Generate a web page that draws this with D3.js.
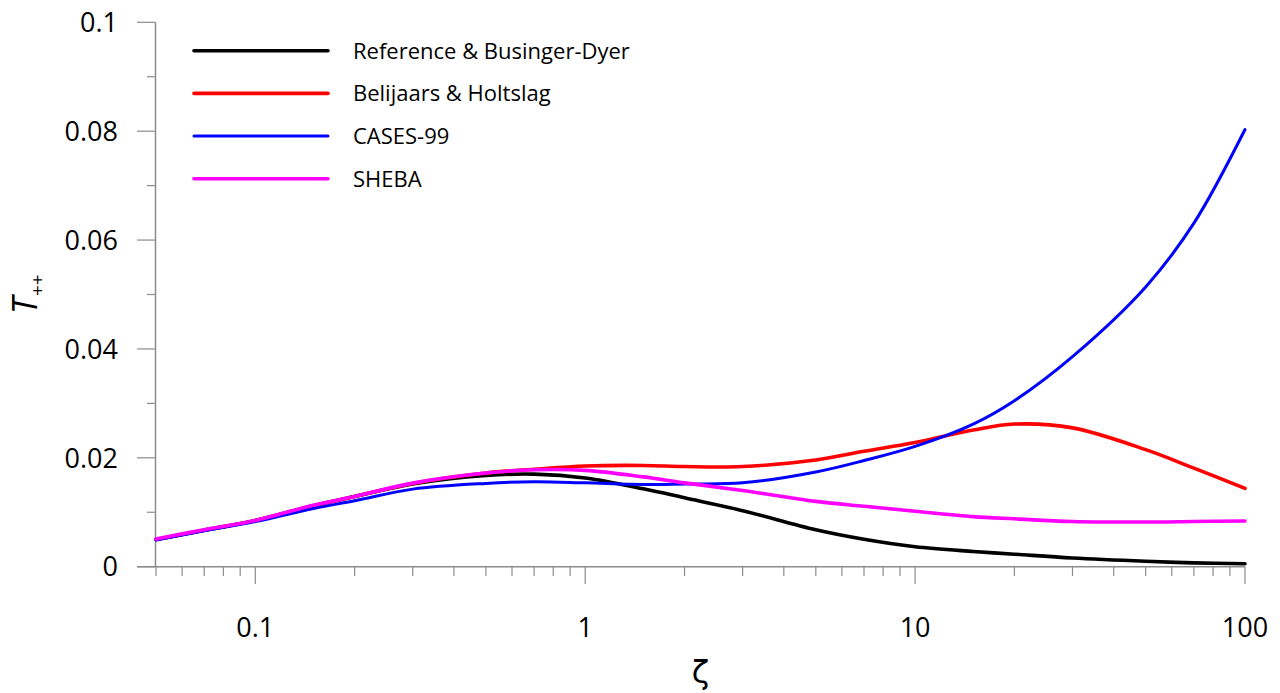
<!DOCTYPE html>
<html>
<head>
<meta charset="utf-8">
<script src="https://cdn.jsdelivr.net/npm/d3@7"></script>
<style>
  html, body { margin: 0; padding: 0; background: #fff; }
  svg { display: block; }
  text { font-family: "Open Sans", "Noto Sans", sans-serif; fill: #000; }
</style>
</head>
<body>
<svg id="chart" width="1280" height="693"></svg>
<script>
// ---- data ----
const zeta = [0.05, 0.07, 0.1, 0.15, 0.2, 0.3, 0.5, 0.7, 1, 1.5, 2, 3, 5, 7, 10, 15, 20, 30, 50, 70, 100];
const referenceBD = [0.0050, 0.0067, 0.0085, 0.0112, 0.0129, 0.0152, 0.01675, 0.0170, 0.0163, 0.0143, 0.01266, 0.0103, 0.0068, 0.00505, 0.00367, 0.0028, 0.0023, 0.0016, 0.0010, 0.0007, 0.00055];
const belijaarsHoltslag = [0.0050, 0.0067, 0.0085, 0.0112, 0.0129, 0.0153, 0.0172, 0.0179, 0.0185, 0.0186, 0.0184, 0.0184, 0.0196, 0.0212, 0.0228, 0.0251, 0.0262, 0.0255, 0.0215, 0.0181, 0.0144];
const cases99 = [0.0049, 0.0066, 0.0083, 0.0107, 0.0121, 0.01425, 0.0153, 0.0156, 0.0154, 0.0151, 0.0152, 0.0154, 0.0174, 0.0195, 0.0221, 0.0262, 0.0305, 0.0386, 0.0514, 0.0631, 0.0803];
const sheba = [0.0051, 0.0068, 0.0085, 0.0113, 0.0129, 0.01535, 0.0172, 0.0178, 0.0177, 0.0165, 0.0154, 0.0140, 0.0120, 0.0111, 0.0102, 0.0092, 0.0088, 0.0083, 0.0082, 0.0083, 0.0084];

const seriesNames = ["Reference & Businger-Dyer", "Belijaars & Holtslag", "CASES-99", "SHEBA"];
const seriesColors = ["#000000", "#ff0000", "#0000ff", "#ff00ff"];
const seriesWidths = [3.6, 3.6, 3, 3.6];
const seriesValues = [referenceBD, belijaarsHoltslag, cases99, sheba];

const xTickValues = [0.1, 1, 10, 100];
const xTickLabels = ["0.1", "1", "10", "100"];
const yTickValues = [0, 0.02, 0.04, 0.06, 0.08, 0.1];
const yTickLabels = ["0", "0.02", "0.04", "0.06", "0.08", "0.1"];
const yMinorTicks = [0.01, 0.03, 0.05, 0.07, 0.09];

// ---- scales ----
const svg = d3.select("#chart");
const x = d3.scaleLog().domain([0.05, 100]).range([156, 1245]);
const y = d3.scaleLinear().domain([0, 0.1]).range([566.7, 22.3]);
const axisColor = "#8c8c8c";
const axisX = 155.5;

// minor x ticks (2..9 per decade, plus 0.05..0.09)
const xMinor = [];
[0.01, 0.1, 1, 10].forEach(d => { for (let k = 2; k <= 9; k++) { const v = d * k; if (v >= 0.05 && v <= 100 && !xTickValues.includes(v)) xMinor.push(v); } });

const g = svg.append("g");

// y axis line
g.append("line").attr("x1", axisX).attr("x2", axisX).attr("y1", y(0.1)).attr("y2", y(0))
  .attr("stroke", axisColor).attr("stroke-width", 1.5);
// x axis line
g.append("line").attr("x1", 137).attr("x2", x(100)).attr("y1", y(0)).attr("y2", y(0))
  .attr("stroke", axisColor).attr("stroke-width", 1.5);

// y major ticks
g.selectAll(".ymaj").data(yTickValues).join("line")
  .attr("x1", 137).attr("x2", axisX).attr("y1", d => y(d)).attr("y2", d => y(d))
  .attr("stroke", axisColor).attr("stroke-width", 1.2);
// y minor ticks
g.selectAll(".ymin").data(yMinorTicks).join("line")
  .attr("x1", 147).attr("x2", axisX).attr("y1", d => y(d)).attr("y2", d => y(d))
  .attr("stroke", axisColor).attr("stroke-width", 1.2);
// y labels
g.selectAll(".ylab").data(yTickValues).join("text")
  .attr("x", 118).attr("y", d => y(d)).attr("dy", "0.36em")
  .attr("text-anchor", "end").attr("font-size", 27)
  .text((d, i) => yTickLabels[i]);

// x major ticks
g.selectAll(".xmaj").data(xTickValues).join("line")
  .attr("x1", d => x(d)).attr("x2", d => x(d)).attr("y1", y(0)).attr("y2", 584)
  .attr("stroke", axisColor).attr("stroke-width", 1.2);
// x minor ticks
g.selectAll(".xmin").data(xMinor).join("line")
  .attr("x1", d => x(d)).attr("x2", d => x(d)).attr("y1", y(0)).attr("y2", 576)
  .attr("stroke", axisColor).attr("stroke-width", 1.2);
// x labels
g.selectAll(".xlab").data(xTickValues).join("text")
  .attr("x", d => x(d)).attr("y", 637).attr("text-anchor", "middle").attr("font-size", 27)
  .text((d, i) => xTickLabels[i]);

// axis titles
g.append("text").attr("x", (x(0.05) + x(100)) / 2).attr("y", 683).attr("text-anchor", "middle")
  .attr("font-size", 32).style("font-family", "'DejaVu Sans', sans-serif").text("ζ");
const yt = g.append("text").attr("transform", "translate(37,314) rotate(-90)");
yt.append("tspan").attr("font-size", 34).attr("font-style", "italic").text("T");
yt.append("tspan").attr("font-size", 19).attr("dy", 7).attr("dx", 1).text("++");

// lines
const line = d3.line().x((d, i) => x(zeta[i])).y(d => y(d)).curve(d3.curveCatmullRom.alpha(0.5));
g.selectAll(".series").data(seriesValues).join("path")
  .attr("d", d => line(d)).attr("fill", "none")
  .attr("stroke", (d, i) => seriesColors[i]).attr("stroke-width", (d, i) => seriesWidths[i])
  .attr("stroke-linecap", "round").attr("stroke-linejoin", "round");

// legend
const leg = g.selectAll(".leg").data(seriesNames).join("g")
  .attr("transform", (d, i) => `translate(0,${50.7 + i * 42.7})`);
leg.append("line").attr("x1", 194).attr("x2", 328).attr("y1", 0).attr("y2", 0)
  .attr("stroke", (d, i) => seriesColors[i]).attr("stroke-width", (d, i) => seriesWidths[i])
  .attr("stroke-linecap", "round");
leg.append("text").attr("x", 353).attr("y", 8).attr("font-size", 22).text(d => d);
</script>
</body>
</html>
